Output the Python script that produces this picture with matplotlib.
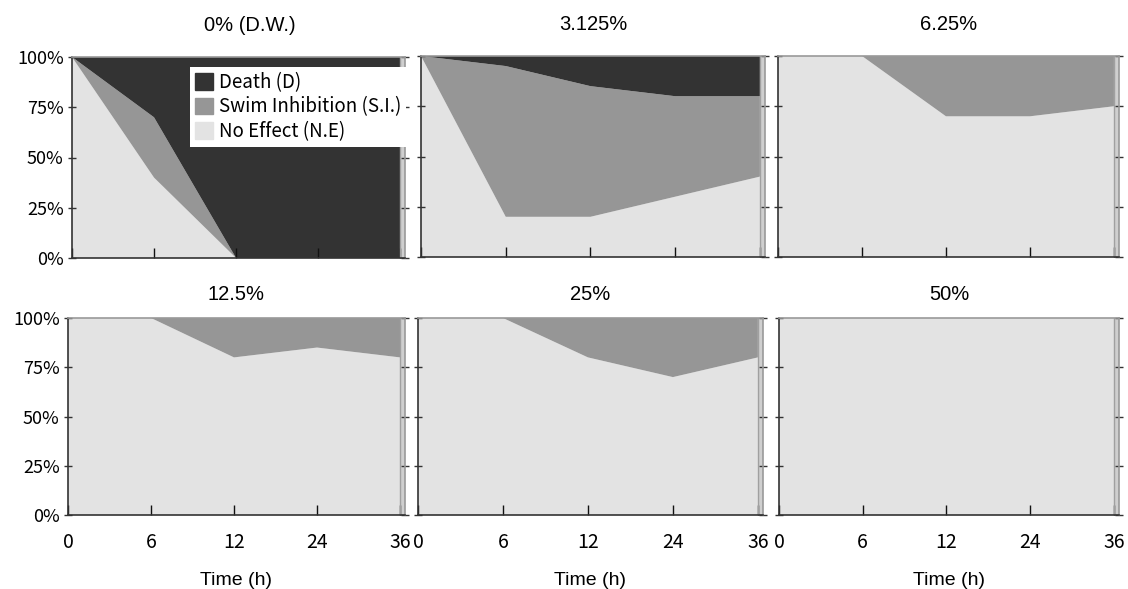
import matplotlib.pyplot as plt
from matplotlib.patches import Patch

# time points (categorical, equally spaced on the axis)
times = ["0", "6", "12", "24", "36"]

titles = ["0% (D.W.)", "3.125%", "6.25%", "12.5%", "25%", "50%"]

# percent of animals per class at each time point, one list per panel
no_effect = [
    [100, 40, 0, 0, 0],
    [100, 20, 20, 30, 40],
    [100, 100, 70, 70, 75],
    [100, 100, 80, 85, 80],
    [100, 100, 80, 70, 80],
    [100, 100, 100, 100, 100],
]
swim_inhib = [
    [0, 30, 0, 0, 0],
    [0, 75, 65, 50, 40],
    [0, 0, 30, 30, 25],
    [0, 0, 20, 15, 20],
    [0, 0, 20, 30, 20],
    [0, 0, 0, 0, 0],
]
death = [
    [0, 30, 100, 100, 100],
    [0, 5, 15, 20, 20],
    [0, 0, 0, 0, 0],
    [0, 0, 0, 0, 0],
    [0, 0, 0, 0, 0],
    [0, 0, 0, 0, 0],
]

C_NE = "#e3e3e3"
C_SI = "#969696"
C_D = "#333333"

TICK_FONT = ["Noto Sans CJK JP", "DejaVu Sans"]
TEXT_FONT = ["Liberation Sans", "DejaVu Sans"]

# axes boxes in pixels: left, top, right, bottom
boxes = [
    (72, 57, 405, 258),
    (421, 56, 765, 257),
    (778, 56, 1119, 257),
    (68, 318, 405, 515),
    (418, 318, 763, 515),
    (779, 318, 1119, 515),
]

W, H = 1128, 589
fig = plt.figure(figsize=(W / 100, H / 100), dpi=100)

x = list(range(len(times)))
XMAX = 4.06

for i, (l, t, r, b) in enumerate(boxes):
    ax = fig.add_axes([l / W, 1 - b / H, (r - l) / W, (b - t) / H])
    ax.stackplot(x, no_effect[i], swim_inhib[i], death[i],
                 colors=[C_NE, C_SI, C_D], linewidth=0)
    ax.axvspan(4, XMAX, color="#cfcfcf", lw=0)
    ax.axvline(4, color="#a0a0a0", lw=1)
    ax.set_xlim(0, XMAX)
    ax.set_ylim(0, 100)

    for s in ["left", "bottom"]:
        ax.spines[s].set_color("#333333")
        ax.spines[s].set_linewidth(1.2)
    for s in ["top", "right"]:
        ax.spines[s].set_color("#999999")
        ax.spines[s].set_linewidth(1.2)

    ax.set_yticks([0, 25, 50, 75, 100])
    ax.tick_params(axis="y", direction="inout", length=6, width=1,
                   color="#333333", right=True, pad=3)
    ax.set_xticks(x)
    ax.tick_params(axis="x", direction="in", length=7, width=1,
                   color="#111111", pad=12)

    if i % 3 == 0:
        ax.set_yticklabels([f"{v}%" for v in [0, 25, 50, 75, 100]],
                           fontsize=13, family=TICK_FONT)
    else:
        ax.set_yticklabels([])

    if i >= 3:
        ax.set_xticklabels(times, fontsize=14, family=TICK_FONT)
        ax.set_xlabel("Time (h)", fontsize=14, family=TEXT_FONT, labelpad=14)
    else:
        ax.set_xticklabels([])

    title_x = 0.535 if i == 0 else 0.5
    pad = 19 if i < 3 else 13
    ax.set_title(titles[i], fontsize=14.5, family=TEXT_FONT, pad=pad, x=title_x)

    if i == 0:
        handles = [Patch(color=C_D, label="Death (D)"),
                   Patch(color=C_SI, label="Swim Inhibition (S.I.)"),
                   Patch(color=C_NE, label="No Effect (N.E)")]
        leg = ax.legend(handles=handles, loc="upper right",
                        bbox_to_anchor=(1.003, 0.95), frameon=True,
                        fancybox=False, framealpha=1, edgecolor="white",
                        prop={"family": TICK_FONT, "size": 13.5},
                        handlelength=1.0, handleheight=1.0, handletextpad=0.3,
                        labelspacing=0.2, borderpad=0.25, borderaxespad=0)
        leg.get_frame().set_linewidth(0)

fig.savefig("out.png", dpi=100)
